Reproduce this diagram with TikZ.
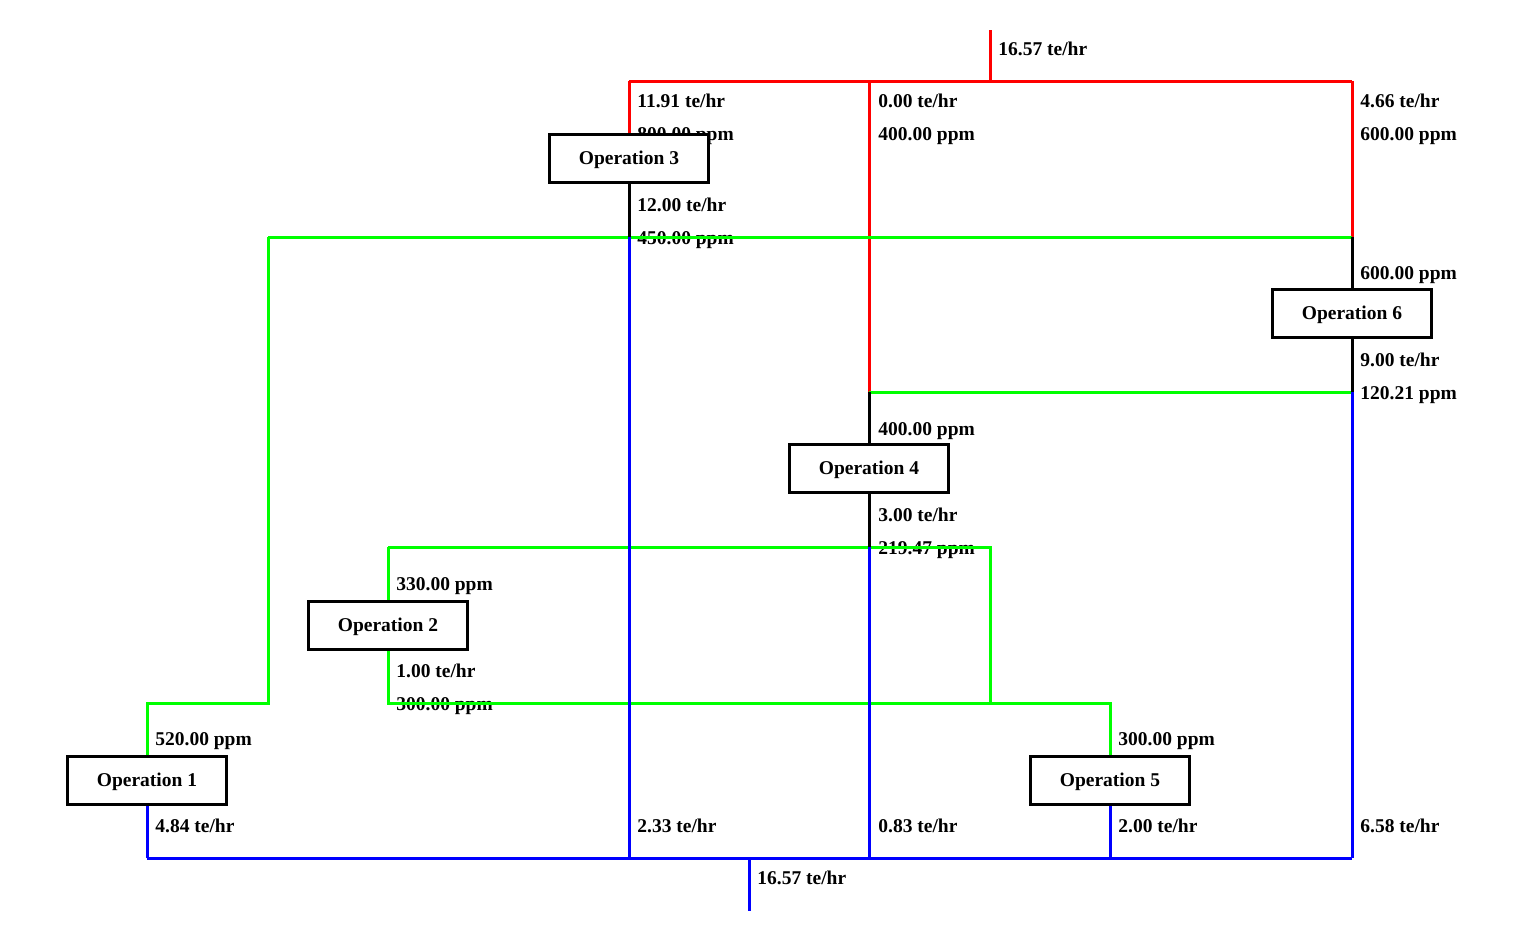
\documentclass[tikz,border=0pt]{standalone}
\usepackage{fontspec}
\setmainfont{Liberation Serif}
\usetikzlibrary{positioning}
\pgfdeclarelayer{lbls}
\pgfdeclarelayer{pipes}
\pgfsetlayers{lbls,pipes,main}

\begin{document}
\begin{tikzpicture}[x=0.5pt,y=-0.5pt]
\tikzstyle{every node}+=[inner sep=0pt, font=\fontsize{9.75}{11}\selectfont\bfseries]
\tikzstyle{op}=[draw=black, line width=1.6pt, fill=white, minimum width=79.5pt, minimum height=24pt, text height=6.4pt, text depth=0pt]
\tikzstyle{lbl}=[anchor=base west]
\tikzstyle{pipe}=[line width=1.5pt]
\useasboundingbox (0,0) rectangle (1532,933);
% operations
\node [op] (op3) at (629,158.5) {Operation 3};
\node [op] (op6) at (1352,313.5) {Operation 6};
\node [op] (op4) at (869,468.5) {Operation 4};
\node [op] (op2) at (388,625.5) {Operation 2};
\node [op] (op1) at (147,780.5) {Operation 1};
\node [op] (op5) at (1110,780.5) {Operation 5};
% junctions
\coordinate (fin) at (990,30);
\coordinate (jin) at (990,81);
\coordinate (r3) at (629,81);
\coordinate (r4) at (869,81);
\coordinate (r6) at (1352,81);
\coordinate (g3) at (629,237);
\coordinate (gl) at (268,237);
\coordinate (g6) at (1352,237);
\coordinate (g6b) at (1352,392);
\coordinate (g4) at (869,392);
\coordinate (g4b) at (869,547);
\coordinate (g2) at (388,547);
\coordinate (g5a) at (990,547);
\coordinate (g5b) at (990,703);
\coordinate (g2b) at (388,703);
\coordinate (g5) at (1110,703);
\coordinate (gl2) at (268,703);
\coordinate (g1) at (147,703);
\coordinate (b1) at (147,858);
\coordinate (b3) at (629,858);
\coordinate (b4) at (869,858);
\coordinate (b5) at (1110,858);
\coordinate (b6) at (1352,858);
\coordinate (bout) at (749,858);
\coordinate (fout) at (749,911);
\begin{pgfonlayer}{lbls}
\node [lbl] (t0) at (998,55) {16.57 te/hr};
\node [lbl] (t3a) at (637,107) {11.91 te/hr};
\node [lbl] (t3b) at (637,140) {800.00 ppm};
\node [lbl] (t4a) at (878,107) {0.00 te/hr};
\node [lbl] (t4b) at (878,140) {400.00 ppm};
\node [lbl] (t6a) at (1360,107) {4.66 te/hr};
\node [lbl] (t6b) at (1360,140) {600.00 ppm};
\node [lbl] (t3c) at (637,211) {12.00 te/hr};
\node [lbl] (t3d) at (637,244) {450.00 ppm};
\node [lbl] (t6c) at (1360,279) {600.00 ppm};
\node [lbl] (t6d) at (1360,366) {9.00 te/hr};
\node [lbl] (t6e) at (1360,399) {120.21 ppm};
\node [lbl] (t4c) at (878,435) {400.00 ppm};
\node [lbl] (t4d) at (878,521) {3.00 te/hr};
\node [lbl] (t4e) at (878,554) {219.47 ppm};
\node [lbl] (t2a) at (396,590) {330.00 ppm};
\node [lbl] (t2b) at (396,677) {1.00 te/hr};
\node [lbl] (t2c) at (396,710) {300.00 ppm};
\node [lbl] (t1a) at (155,745) {520.00 ppm};
\node [lbl] (t5a) at (1118,745) {300.00 ppm};
\node [lbl] (t1b) at (155,832) {4.84 te/hr};
\node [lbl] (t3e) at (637,832) {2.33 te/hr};
\node [lbl] (t4f) at (878,832) {0.83 te/hr};
\node [lbl] (t5b) at (1118,832) {2.00 te/hr};
\node [lbl] (t6f) at (1360,832) {6.58 te/hr};
\node [lbl] (tout) at (757,884) {16.57 te/hr};
\end{pgfonlayer}
\begin{pgfonlayer}{pipes}
% fresh water
\draw [pipe, red] (fin) -- (jin);
\draw [pipe, red] (r3) -- (r6);
\draw [pipe, red] (r3) -- (op3.north);
\draw [pipe, red] (r4) -- (g4);
\draw [pipe, red] (r6) -- (g6);
% reuse
\draw [pipe, green] (gl) -- (g6);
\draw [pipe, green] (gl) -- (gl2) -- (g1) -- (op1.north);
\draw [pipe, green] (g4) -- (g6b);
\draw [pipe, green] (g2) -- (g5a) -- (g5b);
\draw [pipe, green] (g2) -- (op2.north);
\draw [pipe, green] (op2.south) -- (g2b) -- (g5) -- (op5.north);
% outlets
\draw [pipe, black] (op3.south) -- (g3);
\draw [pipe, black] (g6) -- (op6.north);
\draw [pipe, black] (op6.south) -- (g6b);
\draw [pipe, black] (g4) -- (op4.north);
\draw [pipe, black] (op4.south) -- (g4b);
% wastewater
\draw [pipe, blue] (g3) -- (b3);
\draw [pipe, blue] (g4b) -- (b4);
\draw [pipe, blue] (g6b) -- (b6);
\draw [pipe, blue] (op1.south) -- (b1);
\draw [pipe, blue] (op5.south) -- (b5);
\draw [pipe, blue] (b1) -- (b6);
\draw [pipe, blue] (bout) -- (fout);
\end{pgfonlayer}
\end{tikzpicture}
\end{document}
